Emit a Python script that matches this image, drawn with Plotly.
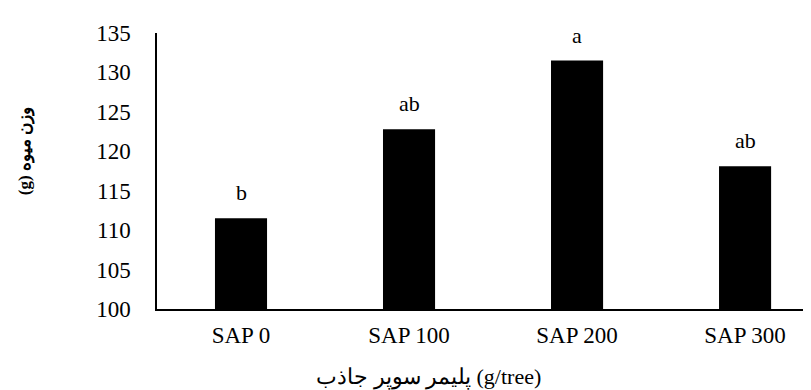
import plotly.graph_objects as go

categories = ["SAP 0", "SAP 100", "SAP 200", "SAP 300"]
values = [111.5, 122.8, 131.5, 118.1]
letters = ["b", "ab", "a", "ab"]
y_ticks = [100, 105, 110, 115, 120, 125, 130, 135]

FONT = "'Liberation Serif', 'Times New Roman', serif"

fig = go.Figure()
fig.add_trace(go.Bar(
    x=categories, y=values,
    marker=dict(color="black", line=dict(width=0)),
    width=0.31,
))
for c, v, t in zip(categories, values, letters):
    fig.add_annotation(x=c, y=v, text=t, showarrow=False, yanchor="bottom",
                       yshift=11, font=dict(family=FONT, size=22, color="black"))

fig.add_annotation(xref="paper", yref="paper", x=-0.2, y=0.57, text="<b>(g) وزن میوه</b>",
                   textangle=-90, showarrow=False, xanchor="center", yanchor="middle",
                   font=dict(family=FONT, size=17, color="black"))
fig.add_annotation(xref="paper", yref="paper", x=0.41, y=-0.245, text="پلیمر سوپر جاذب (g/tree)",
                   showarrow=False, xanchor="center", yanchor="middle",
                   font=dict(family=FONT, size=22, color="black"))

fig.update_layout(
    width=811, height=390,
    margin=dict(l=149, r=0, t=25, b=89),
    plot_bgcolor="white", paper_bgcolor="white",
    showlegend=False,
    font=dict(family=FONT, size=22, color="black"),
)
fig.update_xaxes(range=[-0.5, 3.44], showline=True, linecolor="black", linewidth=1.5,
                 ticks="", showgrid=False, ticklabelstandoff=5, automargin=False,
                 tickfont=dict(family=FONT, size=23, color="black"))
fig.update_yaxes(range=[100, 135], tickvals=y_ticks, showline=True, linecolor="black",
                 linewidth=1.5, ticks="", showgrid=False, zeroline=False, ticklabelstandoff=20,
                 automargin=False, tickfont=dict(family=FONT, size=23, color="black"))

fig.write_html("out.html")
